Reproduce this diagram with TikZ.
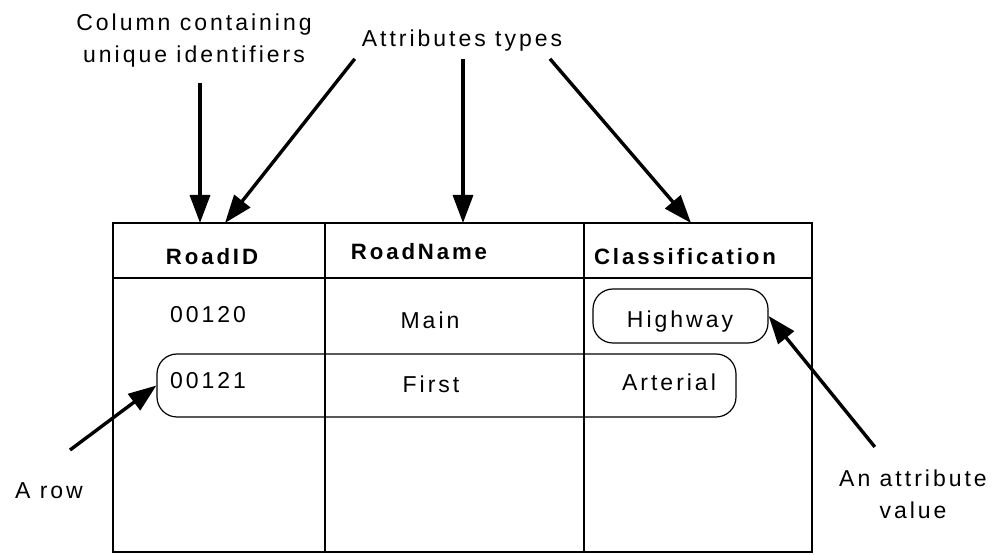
\documentclass[tikz,border=0pt]{standalone}
\usepackage{fontspec}
\setmainfont{Liberation Sans}[LetterSpace=13]
\usetikzlibrary{calc, positioning, arrows.meta}
\tikzset{
    label_text/.style={align=center, font=\fontsize{11.5}{16}\selectfont},
    head_text/.style={anchor=base, font=\bfseries\fontsize{11.1}{13}\selectfont},
    cell_text/.style={anchor=base, font=\fontsize{11.5}{13}\selectfont},
    value_box/.style={rectangle, rounded corners=10pt, draw=black, line width=0.6pt, inner sep=0pt},
    arrow/.style={line width=1.7pt, ->, >={Triangle[length=14pt, width=10pt]}},
    line/.style={line width=0.6pt},
}

\begin{document}
\begin{tikzpicture}[x=0.5pt, y=-0.5pt]
            \useasboundingbox (0,0) rectangle (992,555);
            %%%%%%%%%
            % TABLE %
            %%%%%%%%%
            \draw [line] (113,223) rectangle (812,552);
            \draw [line] (113,278) -- (812,278);
            \draw [line] (325,223) -- (325,552);
            \draw [line] (584,223) -- (584,552);

            \node (roadid_head) [head_text] at (212,265) {RoadID};
            \node (roadname_head) [head_text] at (419,260) {RoadName};
            \node (class_head) [head_text] at (685,265) {Classification};

            \node (id_120) [cell_text] at (208,323) {00120};
            \node (name_main) [cell_text] at (430,329) {Main};
            \node (class_highway) [cell_text] at (680,328) {Highway};
            \node (id_121) [cell_text] at (208,389) {00121};
            \node (name_first) [cell_text] at (431,393) {First};
            \node (class_arterial) [cell_text] at (669,391) {Arterial};

            % rounded boxes
            \node (row_box) [value_box, minimum width=289.5pt, minimum height=31.5pt]
                    at (446.5,385.5) {};
            \node (highway_box) [value_box, minimum width=87.5pt, minimum height=27pt]
                    at (680.5,316) {};

            %%%%%%%%%%
            % LABELS %
            %%%%%%%%%%
            \node (id_label) [label_text] at (194,41)
                    {Column containing\\unique identifiers};
            \node (types_label) [label_text, anchor=base] at (462,47)
                    {Attributes types};
            \node (row_label) [label_text, anchor=base] at (49,499)
                    {A row};
            \node (value_label) [label_text] at (913,494)
                    {An attribute\\value};

            \coordinate (id_top) at (200,223);
            \coordinate (rid_top) at (225,223);
            \coordinate (name_top) at (463,223);
            \coordinate (class_top) at (691,223);
            \coordinate (row_tail) at (70,450);

            \draw [arrow, shorten <=4pt] (id_label.south -| id_top) -- (id_top);
            \draw [arrow] (types_label.south west) -- (rid_top);
            \draw [arrow] (types_label.south -| name_top) -- (name_top);
            \draw [arrow] ($(types_label.south)!0.82!(types_label.south east)$) -- (class_top);
            \draw [arrow] (row_tail) -- (row_box.west);
            \draw [arrow, shorten <=10pt] (value_label) -- (highway_box.east);
      \end{tikzpicture}
\end{document}
